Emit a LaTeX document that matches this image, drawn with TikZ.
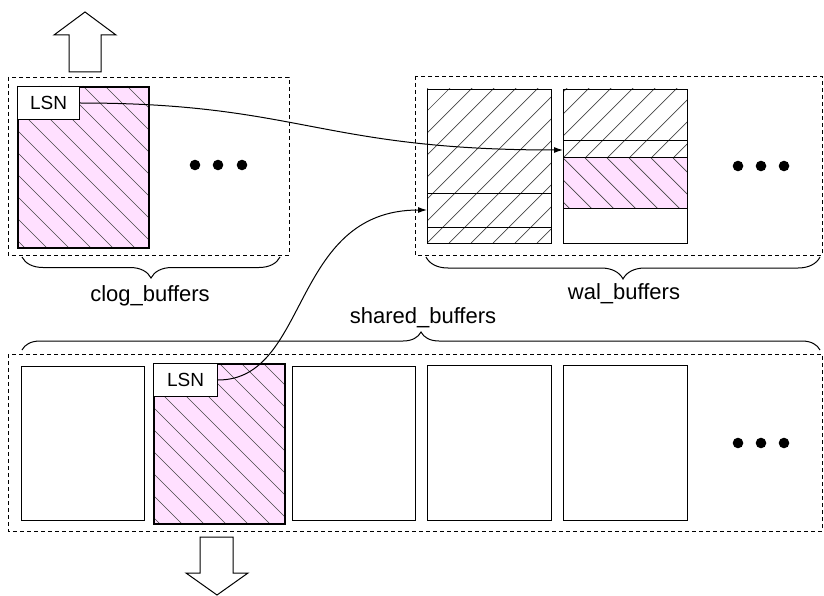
\documentclass[tikz,border=0pt]{standalone}
\usepackage{fontspec}
\setmainfont{Liberation Sans}
\usetikzlibrary{arrows.meta,decorations.pathreplacing}
\definecolor{pagepink}{RGB}{255,224,255}
\definecolor{hatchgray}{RGB}{70,70,70}
\tikzset{
  dashbox/.style={draw=black, line width=0.9pt, dash pattern=on 4pt off 3pt},
  pagebox/.style={draw=black, line width=1pt, fill=white},
  hotpage/.style={draw=black, line width=2pt},
  lsnbox/.style={draw=black, line width=1pt, fill=white, inner sep=0pt, anchor=north west,
                 minimum width=62pt, minimum height=33pt, font=\fontsize{19}{22}\selectfont},
  hatchline/.style={draw=hatchgray, line width=0.7pt},
  sep/.style={draw=black, line width=1pt},
  dot/.style={fill=black, circle, inner sep=0pt, minimum size=10.6pt},
  bigarrow/.style={draw=black, line width=1pt, fill=white},
  bracestyle/.style={draw=black, line width=1pt, decorate},
  lbl/.style={anchor=base, font=\fontsize{22}{26}\selectfont, inner sep=0pt},
  conn/.style={draw=black, line width=1pt, -{Latex[length=9pt,width=6pt]}}
}
\newcommand\hatchNE[4]{%
  \begin{scope}
    \clip (#1,#2) rectangle (#3,#4);
    \foreach \k in {-10,...,9} \draw[hatchline] ({#1+\k*22},#4) -- ++(260,-260);
  \end{scope}}
\newcommand\hatchSE[4]{%
  \begin{scope}
    \clip (#1,#2) rectangle (#3,#4);
    \foreach \k in {-10,...,9} \draw[hatchline] ({#1+\k*22},#2) -- ++(260,260);
  \end{scope}}
\begin{document}
\begin{tikzpicture}[x=1pt,y=-1pt]
\useasboundingbox (0,0) rectangle (824,596);

% dashed groups
\draw[dashbox] (8,77) rectangle (289,255);
\draw[dashbox] (415,76) rectangle (822,255);
\draw[dashbox] (8,354) rectangle (822,531);

% clog page
\fill[pagepink] (17,86) rectangle (148,247);
\hatchSE{17}{86}{148}{247}
\node[hotpage, inner sep=0pt, minimum width=131pt, minimum height=161pt, anchor=north west] (c1) at (17,86) {};
\node[lsnbox] (lsn1) at (17,86) {LSN};
\node[dot] (cd1) at (195,165) {};
\node[dot] (cd2) at (218,165) {};
\node[dot] (cd3) at (242,165) {};

% up arrow
\draw[bigarrow] (69,72) -- (69,35) -- (54,35) -- (85,12) -- (116,35) -- (101,35) -- (101,72) -- cycle;

% wal pages
\hatchNE{427}{89}{551}{243}
\node[pagebox, fill=none, inner sep=0pt, minimum width=124pt, minimum height=154pt, anchor=north west] (w1) at (427,89) {};
\draw[sep] (427,194) -- (551,194);
\draw[sep] (427,227) -- (551,227);

\hatchNE{563}{89}{687}{158}
\fill[pagepink] (563,158) rectangle (687,208);
\hatchSE{563}{158}{687}{208}
\node[pagebox, fill=none, inner sep=0pt, minimum width=124pt, minimum height=154pt, anchor=north west] (w2) at (563,89) {};
\draw[sep] (563,141) -- (687,141);
\draw[sep] (563,158) -- (687,158);
\draw[sep] (563,208) -- (687,208);
\node[dot] (wd1) at (738,166) {};
\node[dot] (wd2) at (761,166) {};
\node[dot] (wd3) at (784,166) {};

% shared pages
\node[pagebox, inner sep=0pt, minimum width=123pt, minimum height=154pt, anchor=north west] (s1) at (21,366) {};
\fill[pagepink] (153,363) rectangle (284,523);
\hatchSE{153}{363}{284}{523}
\node[hotpage, inner sep=0pt, minimum width=131pt, minimum height=160pt, anchor=north west] (s2) at (153,363) {};
\node[lsnbox, minimum width=64pt] (lsn2) at (153,363) {LSN};
\node[pagebox, inner sep=0pt, minimum width=123pt, minimum height=154pt, anchor=north west] (s3) at (292,366) {};
\node[pagebox, inner sep=0pt, minimum width=124pt, minimum height=155pt, anchor=north west] (s4) at (427,365) {};
\node[pagebox, inner sep=0pt, minimum width=124pt, minimum height=155pt, anchor=north west] (s5) at (563,365) {};
\node[dot] (sd1) at (738,443) {};
\node[dot] (sd2) at (761,443) {};
\node[dot] (sd3) at (784,443) {};

% down arrow
\draw[bigarrow] (200,537) -- (233,537) -- (233,573) -- (248,573) -- (217,595) -- (186,573) -- (200,573) -- cycle;

% braces
\draw[bracestyle, decoration={brace, amplitude=21pt}] (280,257) -- (22,257);
\draw[bracestyle, decoration={brace, amplitude=22pt}] (820,257) -- (426,257);
\draw[bracestyle, decoration={brace, amplitude=18pt}] (22,350) -- (820,350);

% labels
\node[lbl] (lclog) at (150,301) {clog\_buffers};
\node[lbl] (lwal) at (624,299) {wal\_buffers};
\node[lbl] (lshared) at (423,323) {shared\_buffers};

% connectors
\coordinate (t1) at (563,150);
\coordinate (t2) at (427,210);
\draw[conn] (lsn1.east) .. controls (300,103) and (320,150) .. (t1);
\draw[conn] (lsn2.east) .. controls (310,380) and (290,210) .. (t2);
\end{tikzpicture}
\end{document}
